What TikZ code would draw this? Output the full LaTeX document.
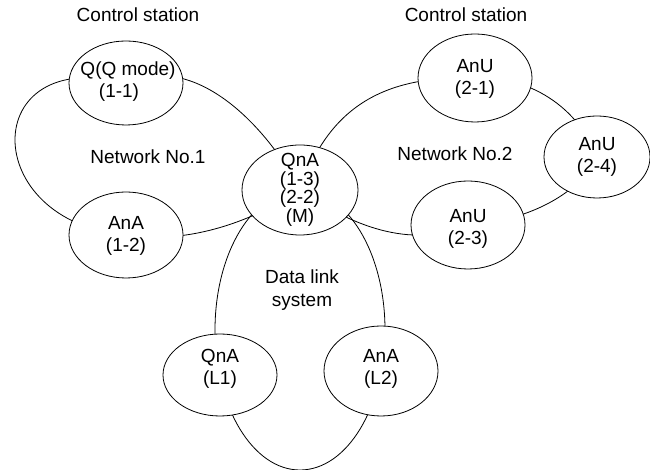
\documentclass[tikz,border=0pt]{standalone}
\usepackage{fontspec}
\setmainfont{Liberation Sans}
\usetikzlibrary{shapes.geometric,backgrounds}
\begin{document}
\begin{tikzpicture}[x=1pt,y=1pt,
  ell/.style={draw=black, line width=0.8pt, fill=white, ellipse, minimum width=114pt, minimum height=86pt, inner sep=0pt},
  txt/.style={align=center, font=\fontsize{19}{22}\selectfont, inner sep=0pt, text=black},
  ring/.style={draw=black, line width=0.8pt}]
\useasboundingbox (0,0) rectangle (650,470);
% stations
\node[ell, minimum height=84pt] (q11) at (126,387) {};
\node[ell] (ana12) at (126,235) {};
\node[ell, minimum height=90pt, minimum width=116pt] (qna) at (300,280) {};
\node[ell, minimum height=88pt] (anu21) at (475,392) {};
\node[ell, minimum width=106pt, minimum height=82pt] (anu24) at (597,313) {};
\node[ell, minimum height=88pt] (anu23) at (468,245) {};
\node[ell, minimum height=82pt] (l1) at (220,95) {};
\node[ell, minimum height=90pt] (l2) at (381,99) {};
% station texts
\node[txt] (q11t) at (128,388) {Q(Q mode)\\(1-1)\hbox to 18pt{}};
\node[txt] (ana12t) at (126,234) {AnA\\(1-2)};
\node[txt, font=\fontsize{19}{18.5}\selectfont] (qnat) at (300,280) {QnA\\(1-3)\\(2-2)\\(M)};
\node[txt] (anu21t) at (475,391) {AnU\\(2-1)};
\node[txt] (anu24t) at (597,313) {AnU\\(2-4)};
\node[txt] (anu23t) at (468,241) {AnU\\(2-3)};
\node[txt] (l1t) at (220,101) {QnA\\(L1)};
\node[txt] (l2t) at (381,101) {AnA\\(L2)};
% labels
\node[txt] (cs1) at (138,455) {Control station};
\node[txt] (cs2) at (466,455) {Control station};
\node[txt] (net1) at (148,313) {Network No.1};
\node[txt] (net2) at (455,316) {Network No.2};
\node[txt, font=\fontsize{19}{23}\selectfont] (dls) at (302,180) {Data link\\system};
% network rings
\begin{scope}[on background layer]
\draw[ring] (q11.center) .. controls (200,420) and (272,335) .. (qna.center)
   .. controls (255,250) and (190,225) .. (ana12.center)
   .. controls (-22,248) and (-22,425) .. (q11.center);
\draw[ring] (qna.center) .. controls (328,360) and (380,395) .. (anu21.center)
   .. controls (520,395) and (575,370) .. (anu24.center)
   .. controls (585,285) and (540,250) .. (anu23.center)
   .. controls (410,220) and (350,245) .. (qna.center);
\draw[ring] (qna.center) arc[start angle=90, end angle=450, x radius=85, y radius=140];
\end{scope}
\end{tikzpicture}
\end{document}
